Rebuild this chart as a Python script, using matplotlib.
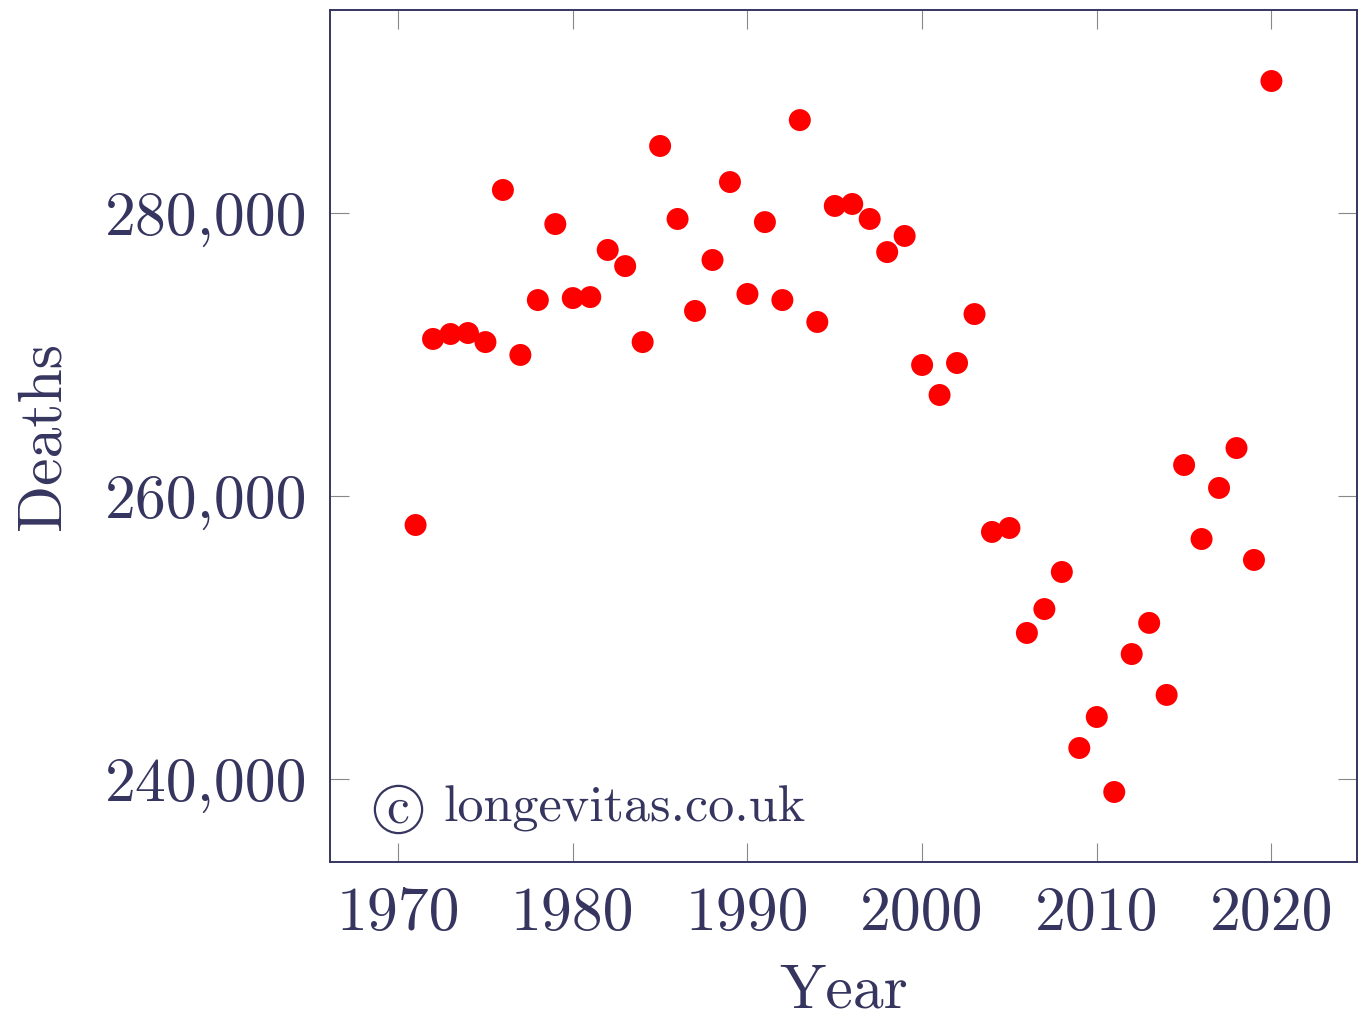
import matplotlib
matplotlib.use('Agg')
import matplotlib.pyplot as plt
from matplotlib.ticker import FuncFormatter

years = list(range(1971, 2021))
deaths = [257950, 271100, 271450, 271520, 270880, 281630, 269970, 273850, 279220, 273990,
          274060, 277390, 276250, 270880, 284740, 279580, 273080, 276680, 282190, 274280,
          279360, 273850, 286570, 272300, 280500, 280640, 279580, 277240, 278380, 269260,
          267140, 269400, 272860, 257460, 257740, 250320, 252010, 254630, 242190, 244380,
          239080, 248830, 251030, 245940, 262190, 256960, 260570, 263390, 255480, 289330]
x_ticks = [1970, 1980, 1990, 2000, 2010, 2020]
y_ticks = [240000, 260000, 280000]

ink = '#35355f'
plt.rcParams['font.family'] = ['cmr10', 'DejaVu Serif']
plt.rcParams['axes.formatter.use_mathtext'] = True

fig = plt.figure(figsize=(13.67, 10.21), dpi=100)
ax = fig.add_axes([0.2414, 0.1557, 0.7513, 0.8345])

ax.scatter(years, deaths, s=250, color='red', edgecolors='none', zorder=3)

ax.set_xlim(1966.1, 2024.9)
ax.set_ylim(234130, 294350)
ax.set_xticks(x_ticks)
ax.set_yticks(y_ticks)
ax.xaxis.set_major_formatter(FuncFormatter(lambda v, p: '%d' % v))
ax.yaxis.set_major_formatter(FuncFormatter(lambda v, p: '{:,}'.format(int(v))))

ax.tick_params(direction='in', length=14, width=0.8, color='#888888',
               top=True, right=True, labelsize=44.5, labelcolor=ink)
ax.tick_params(axis='x', pad=18)
ax.tick_params(axis='y', pad=16)
for sp in ax.spines.values():
    sp.set_color(ink)
    sp.set_linewidth(1.4)

ax.set_xlabel('Year', fontsize=44.5, color=ink, labelpad=16)
ax.set_ylabel('Deaths', fontsize=44.5, color=ink, labelpad=24)

# watermark: circled c + site name
ax.plot([0.0662], [0.062], marker='o', markersize=34, mfc='none', mec=ink,
        mew=1.6, transform=ax.transAxes, clip_on=False)
ax.text(0.0662, 0.062, 'c', transform=ax.transAxes, fontsize=37, color=ink,
        ha='center', va='center')
ax.text(0.110, 0.062, 'longevitas.co.uk', transform=ax.transAxes,
        fontsize=37.5, color=ink, va='center', ha='left')

fig.savefig('out.png', dpi=100)
